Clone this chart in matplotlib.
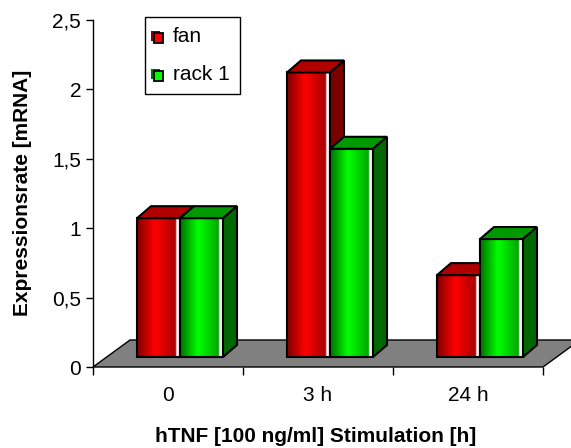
import matplotlib
matplotlib.use("Agg")
import matplotlib.pyplot as plt
import numpy as np
from matplotlib.patches import Polygon, Rectangle
from matplotlib.colors import LinearSegmentedColormap

plt.rcParams['font.family'] = ['Liberation Sans', 'DejaVu Sans']

# ---- data ----
categories = ["0", "3 h", "24 h"]
series_names = ["fan", "rack 1"]
fan = [1.0, 2.05, 0.59]
rack1 = [1.0, 1.5, 0.85]
yticks = [0, 0.5, 1, 1.5, 2, 2.5]
ytick_labels = ["0", "0,5", "1", "1,5", "2", "2,5"]

W, H = 571, 448
fig = plt.figure(figsize=(W / 100, H / 100), dpi=100)
ax_l, ax_r, ax_t, ax_b = 93, 543, 20, 367
ax = fig.add_axes([ax_l / W, 1 - ax_b / H, (ax_r - ax_l) / W, (ax_b - ax_t) / H])
ax.set_xlim(-0.5, len(categories) - 0.5)
ax.set_ylim(0, 2.5)

PX = (ax_r - ax_l) / len(categories)   # px per category unit
PY = (ax_b - ax_t) / 2.5               # px per value unit

# 3D geometry (in px, converted to data units)
floor_dx, floor_dy = 37 / PX, 27 / PY
base_dx, base_dy = 12 / PX, 10 / PY
bar_dx, bar_dy = 14 / PX, 12 / PY
bar_w = 43 / PX

# floor
floor = Polygon([(-0.5, 0), (2.5, 0), (2.5 + floor_dx, floor_dy), (-0.5 + floor_dx, floor_dy)],
                closed=True, facecolor="#808080", edgecolor="black", lw=1.0,
                clip_on=False, zorder=1)
ax.add_patch(floor)

styles = {
    "fan": dict(dark="#800000", bright="#ff0000", right="#a80000",
                top="#b00000", side="#7a0000"),
    "rack 1": dict(dark="#007000", bright="#00ff00", right="#00a800",
                   top="#009a00", side="#006800"),
}

z = 2
for i in range(len(categories)):
    for j, (name, vals) in enumerate(zip(series_names, [fan, rack1])):
        st = styles[name]
        v = vals[i]
        xl = i + base_dx - bar_w + j * bar_w
        b = base_dy
        xr = xl + bar_w
        t = b + v
        cmap = LinearSegmentedColormap.from_list(
            "g", [(0.0, st["dark"]), (0.42, st["bright"]), (0.90, st["right"]),
                  (0.93, "#ffffff"), (1.0, "#ffffff")])
        grad = np.linspace(0, 1, 200).reshape(1, -1)
        ax.imshow(grad, cmap=cmap, aspect="auto", extent=[xl, xr, b, t],
                  zorder=z, interpolation="bilinear", clip_on=False)
        ax.add_patch(Rectangle((xl, b), bar_w, v, facecolor="none",
                               edgecolor="black", lw=1.5, zorder=z + 0.1, clip_on=False))
        ax.add_patch(Polygon([(xl, t), (xr, t), (xr + bar_dx, t + bar_dy), (xl + bar_dx, t + bar_dy)],
                             closed=True, facecolor=st["top"], edgecolor="black", lw=1.5,
                             zorder=z + 0.2, clip_on=False, joinstyle="miter"))
        ax.add_patch(Polygon([(xr, b), (xr + bar_dx, b + bar_dy), (xr + bar_dx, t + bar_dy), (xr, t)],
                             closed=True, facecolor=st["side"], edgecolor="black", lw=1.5,
                             zorder=z + 0.2, clip_on=False, joinstyle="miter"))
        z += 1

ax.set_xlim(-0.5, len(categories) - 0.5)
ax.set_ylim(0, 2.5)

for s in ["top", "right", "bottom"]:
    ax.spines[s].set_visible(False)
ax.spines["left"].set_linewidth(1.0)
ax.spines["left"].set_zorder(30)

ax.set_yticks(yticks)
ax.set_yticklabels(ytick_labels, fontsize=15)
ax.tick_params(axis="y", direction="out", length=5, width=1, pad=3.5)

ax.set_xticks(np.arange(-0.5, len(categories), 1.0))
ax.set_xticklabels([])
ax.set_xticks(np.arange(len(categories)), minor=True)
ax.set_xticklabels(categories, minor=True, fontsize=15)
ax.tick_params(axis="x", which="major", direction="out", length=6, width=1)
ax.tick_params(axis="x", which="minor", length=0, pad=13.5)

fig.text(316 / W, 1 - 436 / H, "hTNF [100 ng/ml] Stimulation [h]", fontsize=15,
         fontweight="bold", ha="center", va="center")
fig.text(23 / W, 1 - 193 / H, "Expressionsrate [mRNA]", fontsize=15, fontweight="bold",
         rotation=90, ha="center", va="center")

# legend (manual)
def fx(px):
    return px / W

def fy(py):
    return 1 - py / H

fig.patches.append(Rectangle((fx(145), fy(94)), fx(240) - fx(145), fy(17) - fy(94),
                             transform=fig.transFigure, facecolor="white",
                             edgecolor="black", lw=1.0, zorder=40))
for k, name in enumerate(series_names):
    cy = 37 + k * 38
    st = styles[name]
    fig.patches.append(Rectangle((fx(151), fy(cy + 4)), fx(160) - fx(151), fy(cy - 6) - fy(cy + 4),
                                 transform=fig.transFigure, facecolor=st["dark"],
                                 edgecolor="none", zorder=41))
    fig.patches.append(Rectangle((fx(153.5), fy(cy + 6)), fx(162.5) - fx(153.5), fy(cy - 3.5) - fy(cy + 6),
                                 transform=fig.transFigure, facecolor=st["bright"],
                                 edgecolor="black", lw=1.3, zorder=42))
    fig.text(fx(173), fy(cy), name, fontsize=15, ha="left", va="center", zorder=43)

fig.savefig("out.png", dpi=100)
